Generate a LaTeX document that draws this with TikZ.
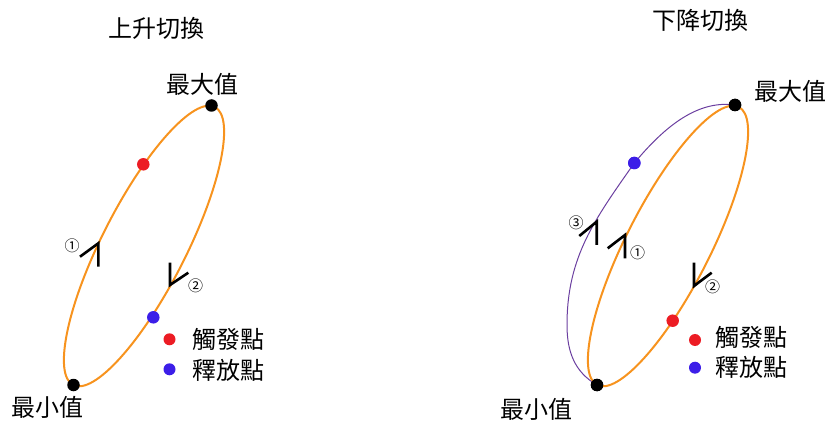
\documentclass[tikz,border=0pt]{standalone}
\usepackage{fontspec}
\setmainfont{Noto Sans CJK TC}
\definecolor{orng}{HTML}{F7931E}
\definecolor{redd}{HTML}{EC1C24}
\definecolor{bluu}{HTML}{3C1EE8}
\definecolor{violetline}{HTML}{6B3FA0}
\begin{document}
\begin{tikzpicture}[x=1pt,y=-1pt,
  oline/.style={draw=orng, line width=2pt},
  pline/.style={draw=violetline, line width=1pt},
  dot/.style={circle, fill=#1, inner sep=0pt, minimum size=12.5pt},
  lbl/.style={font=\fontsize{24}{24}\selectfont, inner sep=0pt},
  num/.style={font=\fontsize{15}{15}\selectfont, inner sep=0pt},
  dirmark/.style={draw=black, line width=2.6pt, line join=miter}]
\useasboundingbox (0,0) rectangle (828,422);

% ---------- left: rising ----------
\coordinate (cL) at (144,246);
\draw[oline, rotate around={63:(cL)}] (cL) ellipse[x radius=156pt, y radius=42pt];

\node[dot=black] (maxL) at (211.5,105.5) {};
\node[dot=black] (minL) at (73.5,385) {};
\node[dot=redd]  (trigL) at (143.3,164.3) {};
\node[dot=bluu]  (relL) at (153.3,317.3) {};

\node[lbl] (tL) at (156,28) {上升切換};
\node[lbl] (maxtL) at (202,84) {最大值};
\node[lbl] (mintL) at (47.5,407.5) {最小值};

\coordinate (a1t) at (98.3,243.3);
\coordinate (a1v) at (98.3,266.7);
\coordinate (a1o) at (80,256.7);
\draw[dirmark] (a1o) -- (a1t) -- (a1v);
\node[num] (n1L) at (72,245.5) {①};

\coordinate (a2t) at (170,285);
\coordinate (a2v) at (170,262.7);
\coordinate (a2o) at (188.3,272.7);
\draw[dirmark] (a2o) -- (a2t) -- (a2v);
\node[num] (n2L) at (195.5,286) {②};

\node[dot=redd, minimum size=12pt] (lgrL) at (169.5,339.3) {};
\node[dot=bluu, minimum size=12pt] (lgbL) at (169.5,369.3) {};
\node[lbl] (lgrtL) at (228.5,339) {觸發點};
\node[lbl] (lgbtL) at (228.5,370) {釋放點};

% ---------- right: falling ----------
\coordinate (cR) at (668,246);
\coordinate (lpR) at (567,325);
\node[dot=black] (maxR) at (735,105) {};
\node[dot=black] (minR) at (597,385) {};
\node[dot=bluu]  (relR) at (634.3,163) {};

\draw[pline] (minR.center) to[out=150,in=-90] (lpR)
  to[out=90,in=-125] (relR.center)
  to[out=50,in=172,looseness=0.9] (maxR.center);

\draw[oline, rotate around={63:(cR)}] (cR) ellipse[x radius=156pt, y radius=42pt];

\node[dot=black] at (maxR) {};
\node[dot=black] at (minR) {};
\node[dot=bluu] at (relR) {};
\node[dot=redd]  (trigR) at (672.7,320.7) {};

\node[lbl] (tR) at (700,20) {下降切換};
\node[lbl] (maxtR) at (790,91) {最大值};
\node[lbl] (mintR) at (536.5,409) {最小值};

\coordinate (b3t) at (596.7,221.7);
\coordinate (b3v) at (596.7,245);
\coordinate (b3o) at (579.3,236);
\draw[dirmark] (b3o) -- (b3t) -- (b3v);
\node[num] (n3R) at (576,223) {③};

\coordinate (b1t) at (625,235);
\coordinate (b1v) at (625,258.3);
\coordinate (b1o) at (607.7,248.3);
\draw[dirmark] (b1o) -- (b1t) -- (b1v);
\node[num] (n1R) at (637.5,253) {①};

\coordinate (b2t) at (694,286);
\coordinate (b2v) at (694,262.7);
\coordinate (b2o) at (711.7,272.7);
\draw[dirmark] (b2o) -- (b2t) -- (b2v);
\node[num] (n2R) at (712.5,287) {②};

\node[dot=redd, minimum size=12pt] (lgrR) at (695,340) {};
\node[dot=bluu, minimum size=12pt] (lgbR) at (695,367.7) {};
\node[lbl] (lgrtR) at (751,337.5) {觸發點};
\node[lbl] (lgbtR) at (751,367.5) {釋放點};
\end{tikzpicture}
\end{document}
